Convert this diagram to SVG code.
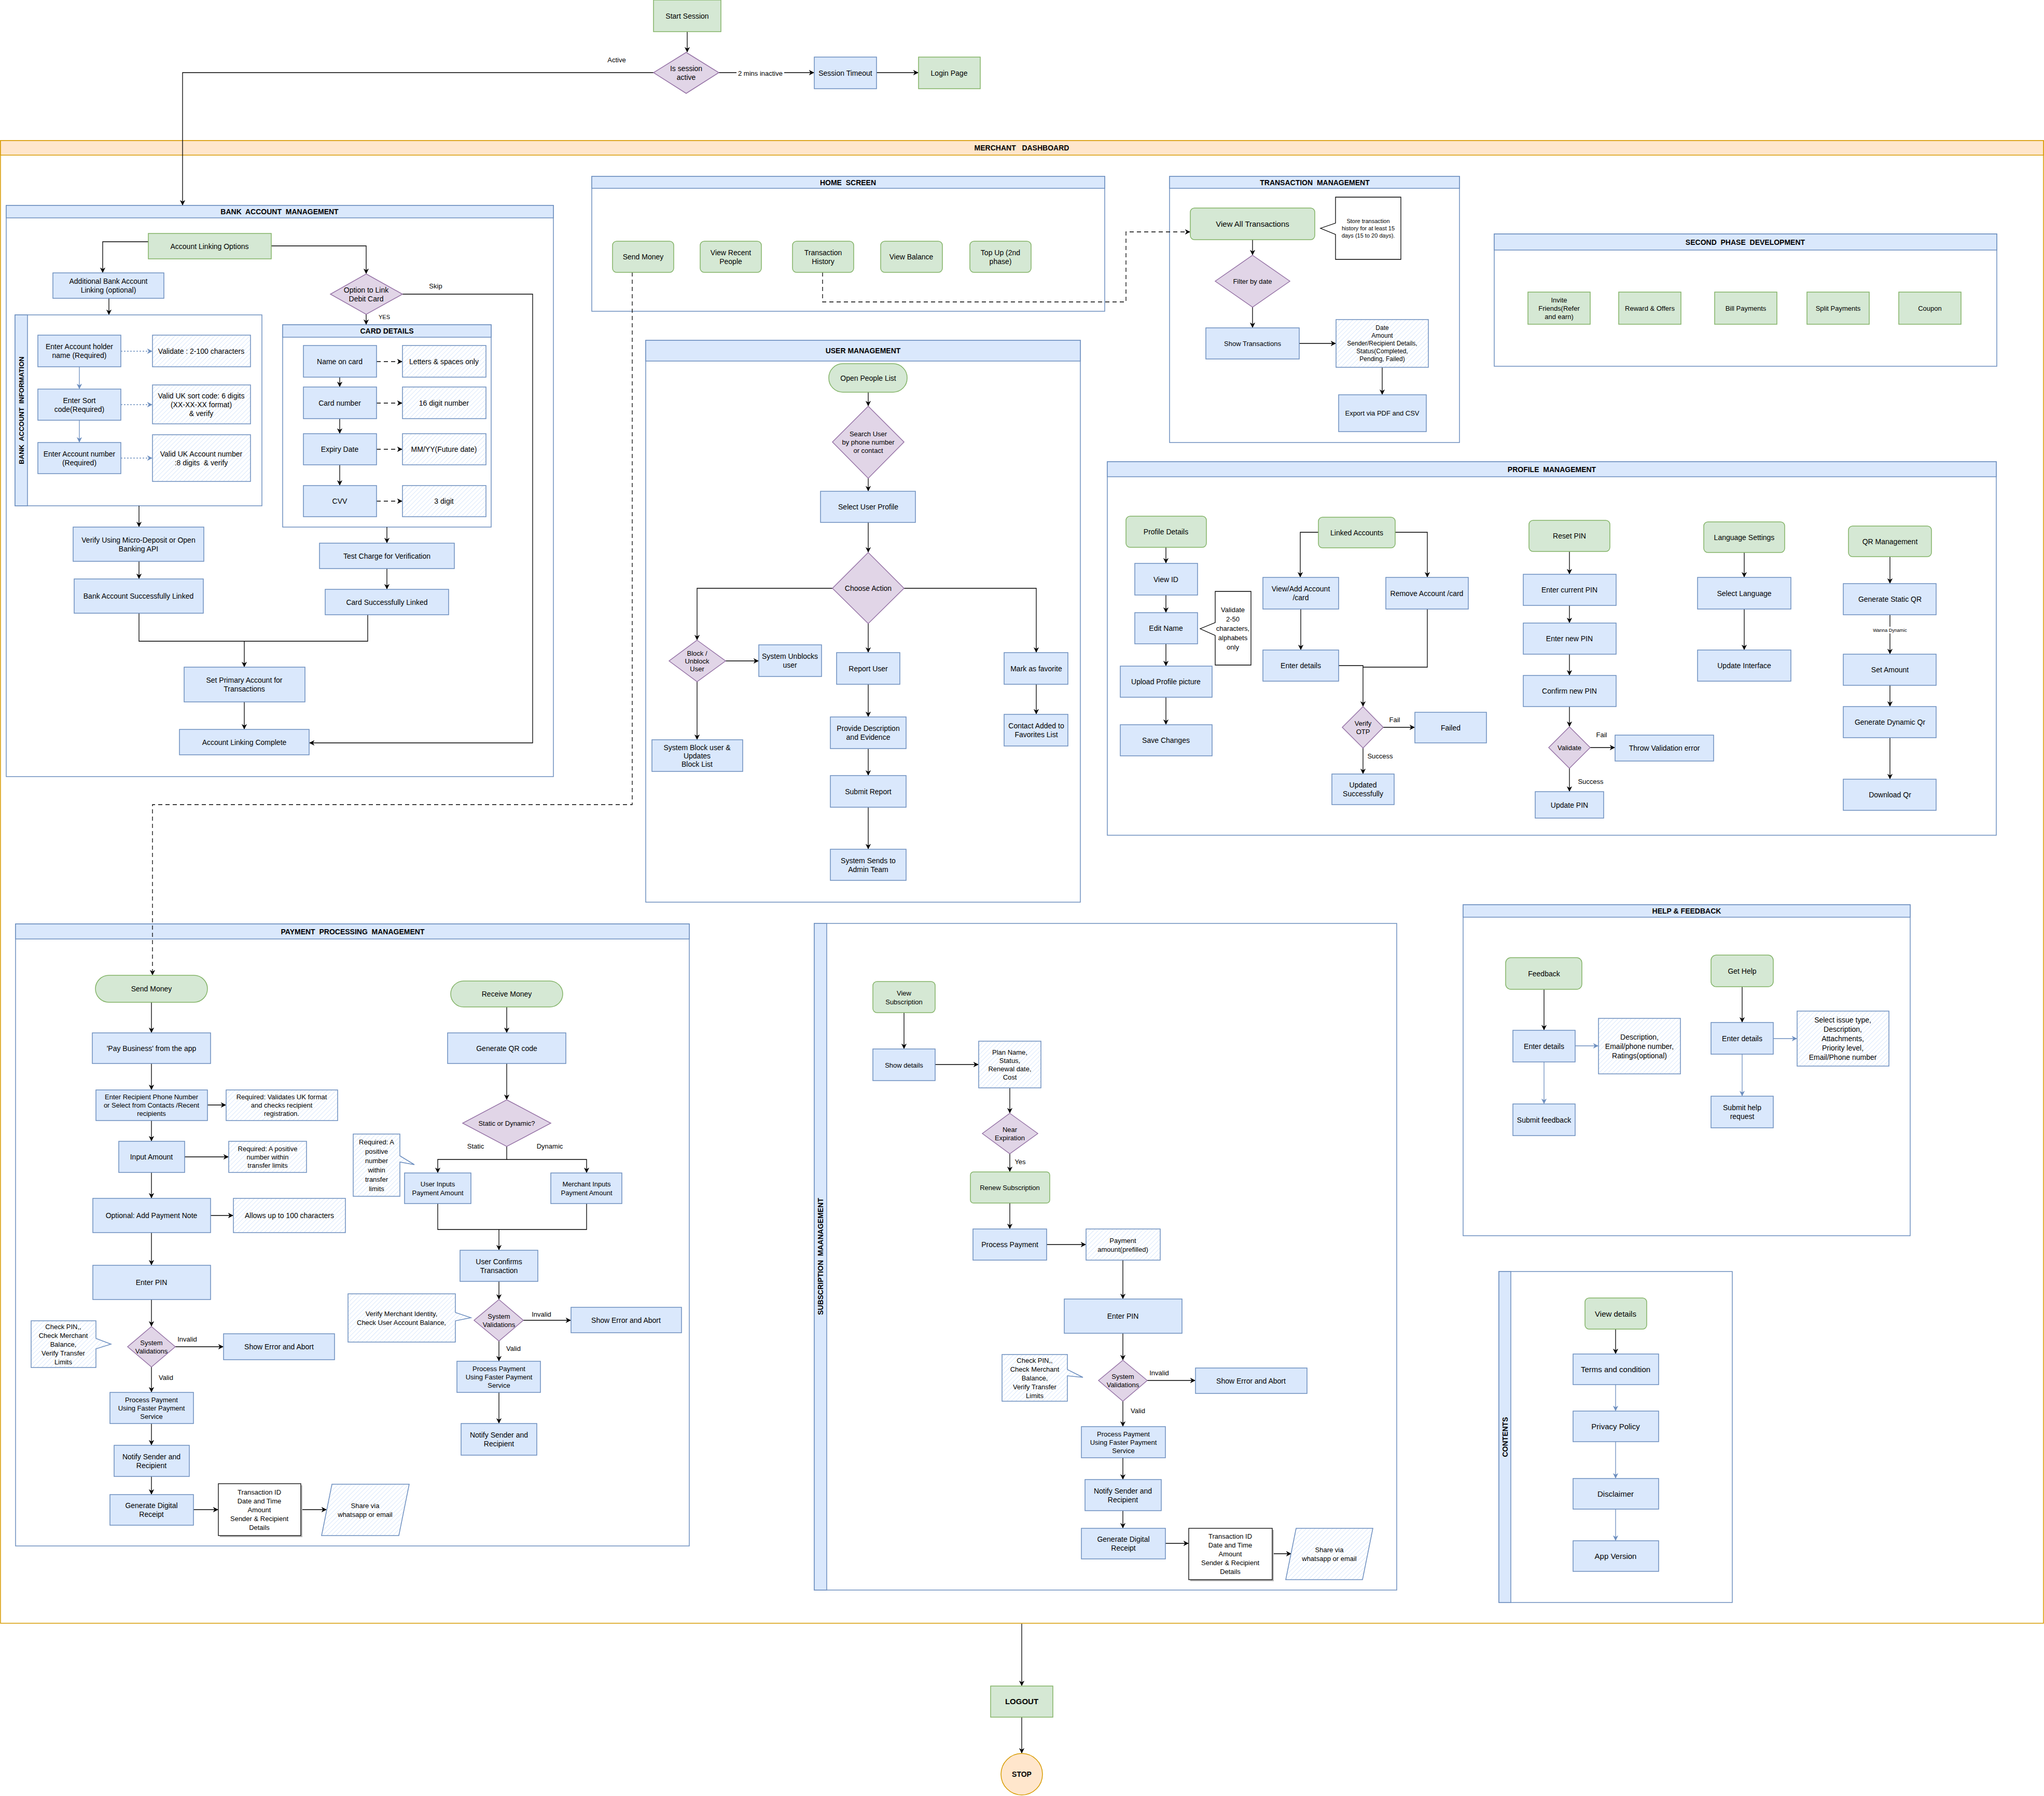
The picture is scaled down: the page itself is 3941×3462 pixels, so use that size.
<svg xmlns="http://www.w3.org/2000/svg" width="3941" height="3462" viewBox="0 0 3941 3462">
<style>
text{font-family:"Liberation Sans",Arial,sans-serif;font-size:14px;fill:#000;text-anchor:middle}
.s13{font-size:13px}.s12{font-size:12px}.s11{font-size:11px}.s9{font-size:9px}.s15{font-size:15px}
.bd{font-weight:bold}
.b{fill:#dae8fc;stroke:#6c8ebf;stroke-width:1.5}
.g{fill:#d5e8d4;stroke:#82b366;stroke-width:1.5}
.p{fill:#e1d5e7;stroke:#9673a6;stroke-width:1.5}
.n{fill:url(#h);stroke:#6c8ebf;stroke-width:1.5}
.w{fill:#fff;stroke:#000;stroke-width:1.3}
.lane{fill:#fff;stroke:#6c8ebf;stroke-width:1.5}
.hd{fill:#dae8fc;stroke:#6c8ebf;stroke-width:1.5}
.c{fill:none;stroke:#000;stroke-width:1.3}
.cb{fill:none;stroke:#6c8ebf;stroke-width:1.3}
.d{stroke-dasharray:8 6}
.dt{stroke-dasharray:3 3}
</style>
<defs>
<pattern id="h" patternUnits="userSpaceOnUse" width="6" height="6" patternTransform="rotate(45)"><rect width="6" height="6" fill="#fff"/><line x1="0" y1="0" x2="0" y2="6" stroke="#dae8fc" stroke-width="2"/></pattern>
<marker id="a" viewBox="0 0 10 10" refX="9" refY="5" markerWidth="8" markerHeight="8" orient="auto"><path d="M0,0 L10,5 L0,10 L3,5 z" fill="#000"/></marker>
<marker id="ab" viewBox="0 0 10 10" refX="9" refY="5" markerWidth="8" markerHeight="8" orient="auto"><path d="M0,0 L10,5 L0,10 L3,5 z" fill="#6c8ebf"/></marker>
</defs>
<rect width="3941" height="3462" fill="#fff"/>

<!-- Containers -->
<g id="merchant-dashboard">
<rect x="1" y="271" width="3939" height="2858" fill="#fff" stroke="#d79b00" stroke-width="1.5"/>
<rect x="1" y="271" width="3939" height="28" fill="#ffe6cc" stroke="#d79b00" stroke-width="1.5"/>
<text x="1970" y="290" class="bd" style="white-space:pre">MERCHANT   DASHBOARD</text>
</g>
<g id="lane-bank">
<rect x="12" y="396" width="1055" height="1101" class="lane"/>
<rect x="12" y="396" width="1055" height="24" class="hd"/>
<text x="539" y="413" class="bd" style="white-space:pre">BANK  ACCOUNT  MANAGEMENT</text>
</g>
<g id="lane-bai">
<rect x="29" y="607" width="476" height="368" class="lane"/>
<rect x="29" y="607" width="24" height="368" class="hd"/>
<text x="41" y="796" transform="rotate(-90 41 791)" class="bd s13" style="white-space:pre">BANK  ACCOUNT  INFORMATION</text>
</g>
<g id="lane-card">
<rect x="545" y="626" width="402" height="390" class="lane"/>
<rect x="545" y="626" width="402" height="24" class="hd"/>
<text x="746" y="643" class="bd">CARD DETAILS</text>
</g>
<g id="lane-home">
<rect x="1141" y="340" width="989" height="260" class="lane"/>
<rect x="1141" y="340" width="989" height="23" class="hd"/>
<text x="1635" y="356.5" class="bd" style="white-space:pre">HOME  SCREEN</text>
</g>
<g id="lane-transaction">
<rect x="2255" y="340" width="559" height="513" class="lane"/>
<rect x="2255" y="340" width="559" height="23" class="hd"/>
<text x="2535" y="356.5" class="bd" style="white-space:pre">TRANSACTION  MANAGEMENT</text>
</g>
<g id="lane-second">
<rect x="2881" y="451" width="969" height="255" class="lane"/>
<rect x="2881" y="451" width="969" height="31" class="hd"/>
<text x="3365" y="471.5" class="bd" style="white-space:pre">SECOND  PHASE  DEVELOPMENT</text>
</g>
<g id="lane-user">
<rect x="1245" y="656" width="838" height="1083" class="lane"/>
<rect x="1245" y="656" width="838" height="40" class="hd"/>
<text x="1664" y="681" class="bd">USER MANAGEMENT</text>
</g>
<g id="lane-profile">
<rect x="2135" y="890" width="1714" height="720" class="lane"/>
<rect x="2135" y="890" width="1714" height="29" class="hd"/>
<text x="2992" y="909.5" class="bd" style="white-space:pre">PROFILE  MANAGEMENT</text>
</g>
<g id="lane-payment">
<rect x="30" y="1781" width="1299" height="1199" class="lane"/>
<rect x="30" y="1781" width="1299" height="29" class="hd"/>
<text x="680" y="1800.5" class="bd" style="white-space:pre">PAYMENT  PROCESSING  MANAGEMENT</text>
</g>
<g id="lane-subscription">
<rect x="1570" y="1780" width="1123" height="1285" class="lane"/>
<rect x="1570" y="1780" width="24" height="1285" class="hd"/>
<text x="1582" y="2427" transform="rotate(-90 1582 2422)" class="bd" style="white-space:pre">SUBSCRIPTION  MAANAGEMENT</text>
</g>
<g id="lane-help">
<rect x="2821" y="1744" width="862" height="638" class="lane"/>
<rect x="2821" y="1744" width="862" height="24" class="hd"/>
<text x="3252" y="1761" class="bd">HELP &amp; FEEDBACK</text>
</g>
<g id="lane-contents">
<rect x="2890" y="2451" width="450" height="638" class="lane"/>
<rect x="2890" y="2451" width="23" height="638" class="hd"/>
<text x="2902" y="2775" transform="rotate(-90 2902 2770)" class="bd">CONTENTS</text>
</g>

<!-- Connectors -->
<g id="connectors">
<path class="c" d="M1325,61 V100" marker-end="url(#a)"/>
<path class="c" d="M1386,140 H1569" marker-end="url(#a)"/>
<path class="c" d="M1690,140 H1770" marker-end="url(#a)"/>
<path class="c" d="M1260,140 H352 V395" marker-end="url(#a)"/>
<!-- bank -->
<path class="c" d="M286,466 H198 V525" marker-end="url(#a)"/>
<path class="c" d="M523,474 H706 V527" marker-end="url(#a)"/>
<path class="c" d="M706,606 V625" marker-end="url(#a)"/>
<path class="c" d="M776,567 H1027 V1432 H597" marker-end="url(#a)"/>
<path class="c" d="M210,575 V606" marker-end="url(#a)"/>
<path class="cb" d="M153,707 V749" marker-end="url(#ab)"/>
<path class="cb" d="M153,810 V852" marker-end="url(#ab)"/>
<path class="cb dt" d="M233,677 H293" marker-end="url(#ab)"/>
<path class="cb dt" d="M233,780 H293" marker-end="url(#ab)"/>
<path class="cb dt" d="M233,883 H293" marker-end="url(#ab)"/>
<path class="c" d="M655,727 V745" marker-end="url(#a)"/>
<path class="c" d="M655,807 V835" marker-end="url(#a)"/>
<path class="c" d="M655,896 V935" marker-end="url(#a)"/>
<path class="c d" d="M726,697 H775" marker-end="url(#a)"/>
<path class="c d" d="M726,777 H775" marker-end="url(#a)"/>
<path class="c d" d="M726,866 H775" marker-end="url(#a)"/>
<path class="c d" d="M726,966 H775" marker-end="url(#a)"/>
<path class="c" d="M268,975 V1015" marker-end="url(#a)"/>
<path class="c" d="M268,1082 V1115" marker-end="url(#a)"/>
<path class="c" d="M746,1016 V1046" marker-end="url(#a)"/>
<path class="c" d="M746,1096 V1135" marker-end="url(#a)"/>
<path class="c" d="M268,1182 V1236 H709 V1185"/>
<path class="c" d="M471,1236 V1285" marker-end="url(#a)"/>
<path class="c" d="M471,1353 V1405" marker-end="url(#a)"/>
<!-- home / transaction -->
<path class="c d" stroke="#555" d="M1219,525 V1551 H294 V1879" marker-end="url(#a)"/>
<path class="c d" stroke="#333" d="M1586,525 V582 H2171 V447 H2294" marker-end="url(#a)"/>
<path class="c" d="M2415,462 V491" marker-end="url(#a)"/>
<path class="c" d="M2415,592 V631" marker-end="url(#a)"/>
<path class="c" stroke="#666" stroke-width="3" d="M2505,662 H2575" marker-end="url(#a)"/>
<path class="c" d="M2665,708 V760" marker-end="url(#a)"/>
<!-- user -->
<path class="c" d="M1674,756 V782" marker-end="url(#a)"/>
<path class="c" d="M1674,922 V946" marker-end="url(#a)"/>
<path class="c" d="M1674,1007 V1064" marker-end="url(#a)"/>
<path class="c" d="M1605,1134 H1344 V1233" marker-end="url(#a)"/>
<path class="c" d="M1674,1202 V1257" marker-end="url(#a)"/>
<path class="c" d="M1743,1134 H1998 V1257" marker-end="url(#a)"/>
<path class="c" d="M1399,1274 H1462" marker-end="url(#a)"/>
<path class="c" d="M1344,1314 V1425" marker-end="url(#a)"/>
<path class="c" d="M1674,1319 V1381" marker-end="url(#a)"/>
<path class="c" d="M1674,1443 V1494" marker-end="url(#a)"/>
<path class="c" d="M1674,1556 V1636" marker-end="url(#a)"/>
<path class="c" d="M1998,1319 V1376" marker-end="url(#a)"/>
<!-- profile -->
<path class="c" d="M2248,1055 V1085" marker-end="url(#a)"/>
<path class="c" d="M2248,1147 V1180" marker-end="url(#a)"/>
<path class="c" d="M2248,1241 V1283" marker-end="url(#a)"/>
<path class="c" d="M2248,1344 V1396" marker-end="url(#a)"/>
<path class="c" d="M2542,1026 H2507 V1112" marker-end="url(#a)"/>
<path class="c" d="M2690,1026 H2752 V1112" marker-end="url(#a)"/>
<path class="c" d="M2508,1174 V1252" marker-end="url(#a)"/>
<path class="c" d="M2581,1283 H2628 V1361" marker-end="url(#a)"/>
<path class="c" d="M2752,1174 V1286 H2628"/>
<path class="c" d="M2667,1402 H2727" marker-end="url(#a)"/>
<path class="c" d="M2628,1442 V1491" marker-end="url(#a)"/>
<path class="c" d="M3026,1063 V1106" marker-end="url(#a)"/>
<path class="c" d="M3026,1167 V1200" marker-end="url(#a)"/>
<path class="c" d="M3026,1261 V1301" marker-end="url(#a)"/>
<path class="c" d="M3026,1362 V1400" marker-end="url(#a)"/>
<path class="c" d="M3066,1441 H3113" marker-end="url(#a)"/>
<path class="c" d="M3026,1481 V1525" marker-end="url(#a)"/>
<path class="c" stroke="#bbb" d="M3363,1065 V1112" marker-end="url(#a)"/>
<path class="c" stroke="#bbb" d="M3363,1174 V1252" marker-end="url(#a)"/>
<path class="c" d="M3644,1073 V1124" marker-end="url(#a)"/>
<path class="c" d="M3644,1185 V1260" marker-end="url(#a)"/>
<path class="c" d="M3644,1321 V1361" marker-end="url(#a)"/>
<path class="c" d="M3644,1422 V1501" marker-end="url(#a)"/>
<!-- payment send -->
<path class="c" d="M292,1932 V1990" marker-end="url(#a)"/>
<path class="c" d="M292,2050 V2100" marker-end="url(#a)"/>
<path class="c" d="M400,2130 H435" marker-end="url(#a)"/>
<path class="c" d="M292,2160 V2199" marker-end="url(#a)"/>
<path class="c" d="M356,2230 H440" marker-end="url(#a)"/>
<path class="c" d="M292,2260 V2309" marker-end="url(#a)"/>
<path class="c" d="M406,2343 H449" marker-end="url(#a)"/>
<path class="c" d="M292,2376 V2438" marker-end="url(#a)"/>
<path class="c" d="M292,2505 V2556" marker-end="url(#a)"/>
<path class="c" d="M338,2596 H430" marker-end="url(#a)"/>
<path class="c" d="M292,2635 V2683" marker-end="url(#a)"/>
<path class="c" d="M292,2744 V2785" marker-end="url(#a)"/>
<path class="c" d="M292,2846 V2880" marker-end="url(#a)"/>
<path class="c" d="M373,2910 H420" marker-end="url(#a)"/>
<path class="c" d="M580,2910 H629" marker-end="url(#a)"/>
<!-- payment receive -->
<path class="c" d="M977,1941 V1990" marker-end="url(#a)"/>
<path class="c" d="M977,2050 V2119" marker-end="url(#a)"/>
<path class="c" d="M977,2210 V2235 H844 V2260" marker-end="url(#a)"/>
<path class="c" d="M977,2235 H1131 V2260" marker-end="url(#a)"/>
<path class="c" d="M844,2320 V2370 H1131 V2320"/>
<path class="c" d="M962,2370 V2409" marker-end="url(#a)"/>
<path class="c" d="M962,2470 V2504" marker-end="url(#a)"/>
<path class="c" d="M1009,2545 H1100" marker-end="url(#a)"/>
<path class="c" d="M962,2585 V2623" marker-end="url(#a)"/>
<path class="c" d="M962,2684 V2743" marker-end="url(#a)"/>
<!-- subscription -->
<path class="c" d="M1743,1952 V2021" marker-end="url(#a)"/>
<path class="c" d="M1803,2052 H1886" marker-end="url(#a)"/>
<path class="c" d="M1947,2097 V2145" marker-end="url(#a)"/>
<path class="c" d="M1947,2224 V2258" marker-end="url(#a)"/>
<path class="c" d="M1947,2319 V2368" marker-end="url(#a)"/>
<path class="c" d="M2018,2399 H2093" marker-end="url(#a)"/>
<path class="c" d="M2165,2429 V2503" marker-end="url(#a)"/>
<path class="c" d="M2165,2570 V2621" marker-end="url(#a)"/>
<path class="c" d="M2212,2661 H2304" marker-end="url(#a)"/>
<path class="c" d="M2165,2701 V2749" marker-end="url(#a)"/>
<path class="c" d="M2165,2810 V2851" marker-end="url(#a)"/>
<path class="c" d="M2165,2912 V2945" marker-end="url(#a)"/>
<path class="c" d="M2247,2975 H2291" marker-end="url(#a)"/>
<path class="c" d="M2453,2995 H2489" marker-end="url(#a)"/>
<!-- help -->
<path class="c" d="M2977,1907 V1985" marker-end="url(#a)"/>
<path class="cb" d="M3037,2016 H3081" marker-end="url(#ab)"/>
<path class="cb" d="M2977,2047 V2127" marker-end="url(#ab)"/>
<path class="c" d="M3359,1902 V1970" marker-end="url(#a)"/>
<path class="cb" d="M3419,2002 H3464" marker-end="url(#ab)"/>
<path class="cb" d="M3359,2032 V2112" marker-end="url(#ab)"/>
<!-- contents -->
<path class="c" d="M3115,2562 V2609" marker-end="url(#a)"/>
<path class="cb" d="M3115,2669 V2719" marker-end="url(#ab)"/>
<path class="cb" d="M3115,2779 V2849" marker-end="url(#ab)"/>
<path class="cb" d="M3115,2909 V2969" marker-end="url(#ab)"/>
<!-- logout -->
<path class="c" d="M1970,3130 V3249" marker-end="url(#a)"/>
<path class="c" d="M1970,3310 V3379" marker-end="url(#a)"/>
<!-- labels -->
<text x="1189" y="120" class="s13">Active</text>
<rect x="1420" y="132" width="92" height="18" fill="#fff"/>
<text x="1466" y="146" class="s13">2 mins inactive</text>
<text x="840" y="556" class="s13">Skip</text>
<text x="741" y="615" class="s11">YES</text>
<text x="2689" y="1392" class="s13">Fail</text>
<text x="2661" y="1462" class="s13">Success</text>
<text x="3088" y="1421" class="s13">Fail</text>
<text x="3067" y="1511" class="s13">Success</text>
<rect x="3612" y="1208" width="64" height="13" fill="#fff"/>
<text x="3644" y="1218" class="s9">Wanna Dynamic</text>
<text x="361" y="2586" class="s13">Invalid</text>
<text x="320" y="2660" class="s13">Valid</text>
<text x="917" y="2214" class="s13">Static</text>
<text x="1060" y="2214" class="s13">Dynamic</text>
<text x="1044" y="2538" class="s13">Invalid</text>
<text x="990" y="2604" class="s13">Valid</text>
<text x="1967" y="2244" class="s13">Yes</text>
<text x="2235" y="2651" class="s13">Invalid</text>
<text x="2194" y="2724" class="s13">Valid</text>
</g>

<!-- Top nodes -->
<g id="start-session"><rect x="1260" y="0" width="130" height="61" class="g"/><text x="1325" y="35.5">Start Session</text></g>
<g id="is-session-active"><polygon points="1323,101 1386,140 1323,180 1260,140" class="p"/><text x="1323" y="136.5">Is session</text><text x="1323" y="153.5">active</text></g>
<g id="session-timeout"><rect x="1570" y="110" width="120" height="61" class="b"/><text x="1630" y="145.5">Session Timeout</text></g>
<g id="login-page"><rect x="1771" y="110" width="119" height="61" class="g"/><text x="1830" y="145.5">Login Page</text></g>

<!-- Bank nodes -->
<g id="account-linking-options"><rect x="286" y="450" width="237" height="49" class="g"/><text x="404" y="479.5">Account Linking Options</text></g>
<g id="additional-bank"><rect x="102" y="526" width="214" height="49" class="b"/><text x="209" y="547">Additional Bank Account</text><text x="209" y="564">Linking (optional)</text></g>
<g id="option-debit"><polygon points="706,528 776,567 706,606 637,567" class="p"/><text x="706" y="563.5">Option to Link</text><text x="706" y="580.5">Debit Card</text></g>
<g id="enter-holder"><rect x="73" y="646" width="160" height="61" class="b"/><text x="153" y="673">Enter Account holder</text><text x="153" y="690">name (Required)</text></g>
<g id="validate-holder"><rect x="294" y="646" width="189" height="61" class="n"/><text x="388" y="681.5">Validate : 2-100 characters</text></g>
<g id="enter-sort"><rect x="73" y="750" width="160" height="60" class="b"/><text x="153" y="776.5">Enter Sort</text><text x="153" y="793.5">code(Required)</text></g>
<g id="valid-sort"><rect x="294" y="742" width="189" height="75" class="n"/><text x="388" y="767.5">Valid UK sort code: 6 digits</text><text x="388" y="784.5">(XX-XX-XX format)</text><text x="388" y="801.5">&amp; verify</text></g>
<g id="enter-accnum"><rect x="73" y="853" width="160" height="60" class="b"/><text x="153" y="879.5">Enter Account number</text><text x="153" y="896.5">(Required)</text></g>
<g id="valid-accnum"><rect x="294" y="838" width="189" height="90" class="n"/><text x="388" y="879.5">Valid UK Account number</text><text x="388" y="896.5" style="white-space:pre">:8 digits  &amp; verify</text></g>
<g id="name-on-card"><rect x="585" y="666" width="141" height="61" class="b"/><text x="655" y="701.5">Name on card</text></g>
<g id="letters-only"><rect x="776" y="666" width="161" height="61" class="n"/><text x="856" y="701.5">Letters &amp; spaces only</text></g>
<g id="card-number"><rect x="585" y="746" width="141" height="61" class="b"/><text x="655" y="781.5">Card number</text></g>
<g id="digit16"><rect x="776" y="746" width="161" height="61" class="n"/><text x="856" y="781.5">16 digit number</text></g>
<g id="expiry"><rect x="585" y="836" width="141" height="60" class="b"/><text x="655" y="871">Expiry Date</text></g>
<g id="mmyy"><rect x="776" y="836" width="161" height="60" class="n"/><text x="856" y="871">MM/YY(Future date)</text></g>
<g id="cvv"><rect x="585" y="936" width="141" height="60" class="b"/><text x="655" y="971">CVV</text></g>
<g id="digit3"><rect x="776" y="936" width="161" height="60" class="n"/><text x="856" y="971">3 digit</text></g>
<g id="verify-micro"><rect x="141" y="1016" width="252" height="66" class="b"/><text x="267" y="1045.5">Verify Using Micro-Deposit or Open</text><text x="267" y="1062.5">Banking API</text></g>
<g id="bank-linked"><rect x="143" y="1116" width="249" height="66" class="b"/><text x="267" y="1154">Bank Account Successfully Linked</text></g>
<g id="test-charge"><rect x="616" y="1047" width="260" height="49" class="b"/><text x="746" y="1076.5">Test Charge for Verification</text></g>
<g id="card-linked"><rect x="627" y="1136" width="238" height="49" class="b"/><text x="746" y="1165.5">Card Successfully Linked</text></g>
<g id="set-primary"><rect x="355" y="1286" width="233" height="67" class="b"/><text x="471" y="1316">Set Primary Account for</text><text x="471" y="1333">Transactions</text></g>
<g id="linking-complete"><rect x="346" y="1406" width="250" height="49" class="b"/><text x="471" y="1435.5">Account Linking Complete</text></g>

<!-- Home nodes -->
<g id="home-send"><rect x="1181" y="465" width="118" height="60" rx="8" class="g"/><text x="1240" y="500">Send Money</text></g>
<g id="home-recent"><rect x="1350" y="465" width="118" height="60" rx="8" class="g"/><text x="1409" y="491.5">View Recent</text><text x="1409" y="508.5">People</text></g>
<g id="home-history"><rect x="1528" y="465" width="118" height="60" rx="8" class="g"/><text x="1587" y="491.5">Transaction</text><text x="1587" y="508.5">History</text></g>
<g id="home-balance"><rect x="1698" y="465" width="119" height="60" rx="8" class="g"/><text x="1757" y="500">View Balance</text></g>
<g id="home-topup"><rect x="1870" y="465" width="118" height="60" rx="8" class="g"/><text x="1929" y="491.5">Top Up (2nd</text><text x="1929" y="508.5">phase)</text></g>

<!-- Transaction nodes -->
<g id="view-all-tx"><rect x="2295" y="401" width="240" height="61" rx="8" class="g"/><text x="2415" y="436.5" class="s15">View All Transactions</text></g>
<g id="tx-note"><path d="M2575,380 H2701 V500 H2575 V452 L2546,440 L2575,430 Z" class="w"/><text x="2638" y="430" class="s11">Store transaction</text><text x="2638" y="444" class="s11">history for at least 15</text><text x="2638" y="458" class="s11">days (15 to 20 days).</text></g>
<g id="filter-date"><polygon points="2415,492 2487,542 2415,592 2343,542" class="p"/><text x="2415" y="546.5" class="s13">Filter by date</text></g>
<g id="show-tx"><rect x="2325" y="632" width="180" height="60" class="b"/><text x="2415" y="667" class="s13">Show Transactions</text></g>
<g id="tx-data"><rect x="2576" y="616" width="178" height="92" class="n"/><text x="2665" y="636" class="s12">Date</text><text x="2665" y="651" class="s12">Amount</text><text x="2665" y="666" class="s12">Sender/Recipient Details,</text><text x="2665" y="681" class="s12">Status(Completed,</text><text x="2665" y="696" class="s12">Pending, Failed)</text></g>
<g id="export"><rect x="2581" y="761" width="169" height="71" class="b"/><text x="2665" y="801" class="s13">Export via PDF and CSV</text></g>

<!-- Second phase -->
<g id="invite"><rect x="2946" y="563" width="120" height="62" class="g"/><text x="3006" y="582.5" class="s13">Invite</text><text x="3006" y="598.5" class="s13">Friends(Refer</text><text x="3006" y="614.5" class="s13">and earn)</text></g>
<g id="reward"><rect x="3121" y="563" width="120" height="62" class="g"/><text x="3181" y="599" class="s13">Reward &amp; Offers</text></g>
<g id="bill"><rect x="3306" y="563" width="120" height="62" class="g"/><text x="3366" y="599" class="s13">Bill Payments</text></g>
<g id="split"><rect x="3484" y="563" width="120" height="62" class="g"/><text x="3544" y="599" class="s13">Split Payments</text></g>
<g id="coupon"><rect x="3661" y="563" width="120" height="62" class="g"/><text x="3721" y="599" class="s13">Coupon</text></g>

<!-- User management -->
<g id="open-people"><rect x="1598" y="701" width="151" height="55" rx="27" class="g"/><text x="1674" y="733.5">Open People List</text></g>
<g id="search-user"><polygon points="1674,783 1743,852 1674,922 1605,852" class="p"/><text x="1674" y="840.5" class="s13">Search User</text><text x="1674" y="856.5" class="s13">by phone number</text><text x="1674" y="872.5" class="s13">or contact</text></g>
<g id="select-profile"><rect x="1582" y="947" width="183" height="60" class="b"/><text x="1674" y="982">Select User Profile</text></g>
<g id="choose-action"><polygon points="1674,1065 1743,1134 1674,1202 1605,1134" class="p"/><text x="1674" y="1139">Choose Action</text></g>
<g id="block-user"><polygon points="1344,1234 1399,1274 1344,1314 1290,1274" class="p"/><text x="1344" y="1263.5" class="s13">Block /</text><text x="1344" y="1278.5" class="s13">Unblock</text><text x="1344" y="1293.5" class="s13">User</text></g>
<g id="system-unblocks"><rect x="1463" y="1243" width="121" height="61" class="b"/><text x="1523" y="1270">System Unblocks</text><text x="1523" y="1287">user</text></g>
<g id="report-user"><rect x="1613" y="1258" width="122" height="61" class="b"/><text x="1674" y="1293.5">Report User</text></g>
<g id="mark-favorite"><rect x="1936" y="1258" width="123" height="61" class="b"/><text x="1998" y="1293.5">Mark as favorite</text></g>
<g id="system-block"><rect x="1257" y="1426" width="175" height="61" class="b"/><text x="1344" y="1445.5">System Block user &amp;</text><text x="1344" y="1461.5">Updates</text><text x="1344" y="1477.5">Block List</text></g>
<g id="provide-desc"><rect x="1601" y="1382" width="146" height="61" class="b"/><text x="1674" y="1409">Provide Description</text><text x="1674" y="1426">and Evidence</text></g>
<g id="submit-report"><rect x="1601" y="1495" width="146" height="61" class="b"/><text x="1674" y="1530.5">Submit Report</text></g>
<g id="sends-admin"><rect x="1601" y="1637" width="146" height="60" class="b"/><text x="1674" y="1663.5">System Sends to</text><text x="1674" y="1680.5">Admin Team</text></g>
<g id="contact-added"><rect x="1936" y="1377" width="123" height="61" class="b"/><text x="1998" y="1404">Contact Added to</text><text x="1998" y="1421">Favorites List</text></g>

<!-- Profile -->
<g id="profile-details"><rect x="2171" y="995" width="155" height="60" rx="8" class="g"/><text x="2248" y="1030">Profile Details</text></g>
<g id="view-id"><rect x="2188" y="1086" width="121" height="61" class="b"/><text x="2248" y="1121.5">View ID</text></g>
<g id="edit-name"><rect x="2188" y="1181" width="121" height="60" class="b"/><text x="2248" y="1216">Edit Name</text></g>
<g id="name-note"><path d="M2343,1140 H2412 V1282 H2343 V1225 L2314,1212 L2343,1200 Z" class="w"/><text x="2377" y="1179.5" class="s13">Validate</text><text x="2377" y="1197.5" class="s13">2-50</text><text x="2377" y="1215.5" class="s13">characters,</text><text x="2377" y="1233.5" class="s13">alphabets</text><text x="2377" y="1251.5" class="s13">only</text></g>
<g id="upload-pic"><rect x="2160" y="1284" width="177" height="60" class="b"/><text x="2248" y="1319">Upload Profile picture</text></g>
<g id="save-changes"><rect x="2160" y="1397" width="177" height="60" class="b"/><text x="2248" y="1432">Save Changes</text></g>
<g id="linked-accounts"><rect x="2542" y="997" width="148" height="59" rx="8" class="g"/><text x="2616" y="1031.5">Linked Accounts</text></g>
<g id="view-add"><rect x="2435" y="1113" width="146" height="61" class="b"/><text x="2508" y="1140">View/Add Account</text><text x="2508" y="1157">/card</text></g>
<g id="remove-account"><rect x="2672" y="1113" width="159" height="61" class="b"/><text x="2751" y="1148.5">Remove Account /card</text></g>
<g id="enter-details-p"><rect x="2435" y="1253" width="146" height="60" class="b"/><text x="2508" y="1288">Enter details</text></g>
<g id="verify-otp"><polygon points="2628,1362 2667,1402 2628,1442 2588,1402" class="p"/><text x="2628" y="1398.5" class="s13">Verify</text><text x="2628" y="1414.5" class="s13">OTP</text></g>
<g id="failed"><rect x="2728" y="1373" width="138" height="59" class="b"/><text x="2797" y="1407.5">Failed</text></g>
<g id="updated"><rect x="2568" y="1492" width="120" height="59" class="b"/><text x="2628" y="1518">Updated</text><text x="2628" y="1535">Successfully</text></g>
<g id="reset-pin"><rect x="2948" y="1003" width="156" height="60" rx="8" class="g"/><text x="3026" y="1038">Reset PIN</text></g>
<g id="enter-current"><rect x="2937" y="1107" width="179" height="60" class="b"/><text x="3026" y="1142">Enter current PIN</text></g>
<g id="enter-new"><rect x="2937" y="1201" width="179" height="60" class="b"/><text x="3026" y="1236">Enter new PIN</text></g>
<g id="confirm-new"><rect x="2937" y="1302" width="179" height="60" class="b"/><text x="3026" y="1337">Confirm new PIN</text></g>
<g id="validate-pin"><polygon points="3026,1401 3066,1441 3026,1481 2986,1441" class="p"/><text x="3026" y="1445.5" class="s13">Validate</text></g>
<g id="throw-error"><rect x="3114" y="1417" width="190" height="50" class="b"/><text x="3209" y="1447">Throw Validation error</text></g>
<g id="update-pin"><rect x="2960" y="1526" width="132" height="51" class="b"/><text x="3026" y="1556.5">Update PIN</text></g>
<g id="language"><rect x="3285" y="1006" width="156" height="59" rx="8" class="g"/><text x="3363" y="1040.5">Language Settings</text></g>
<g id="select-language"><rect x="3273" y="1113" width="180" height="61" class="b"/><text x="3363" y="1148.5">Select Language</text></g>
<g id="update-interface"><rect x="3273" y="1253" width="180" height="60" class="b"/><text x="3363" y="1288">Update Interface</text></g>
<g id="qr-management"><rect x="3564" y="1014" width="160" height="59" rx="8" class="g"/><text x="3644" y="1048.5">QR Management</text></g>
<g id="static-qr"><rect x="3554" y="1125" width="179" height="60" class="b"/><text x="3644" y="1160">Generate Static QR</text></g>
<g id="set-amount"><rect x="3554" y="1261" width="179" height="60" class="b"/><text x="3644" y="1296">Set Amount</text></g>
<g id="dynamic-qr"><rect x="3554" y="1362" width="179" height="60" class="b"/><text x="3644" y="1397">Generate Dynamic Qr</text></g>
<g id="download-qr"><rect x="3554" y="1502" width="179" height="60" class="b"/><text x="3644" y="1537">Download Qr</text></g>

<!-- Payment send -->
<g id="pay-send-money"><rect x="184" y="1880" width="216" height="52" rx="26" class="g"/><text x="292" y="1911">Send Money</text></g>
<g id="pay-business"><rect x="178" y="1991" width="228" height="59" class="b"/><text x="292" y="2025.5">'Pay Business' from the app</text></g>
<g id="enter-recipient"><rect x="185" y="2101" width="215" height="59" class="b"/><text x="292" y="2119" class="s13">Enter Recipient Phone Number</text><text x="292" y="2135" class="s13">or Select from Contacts /Recent</text><text x="292" y="2151" class="s13">recipients</text></g>
<g id="req-uk"><rect x="436" y="2101" width="215" height="59" class="n"/><text x="543" y="2119" class="s13">Required: Validates UK format</text><text x="543" y="2135" class="s13">and checks recipient</text><text x="543" y="2151" class="s13">registration.</text></g>
<g id="input-amount"><rect x="229" y="2200" width="127" height="60" class="b"/><text x="292" y="2235">Input Amount</text></g>
<g id="req-positive"><rect x="441" y="2200" width="150" height="60" class="n"/><text x="516" y="2218.5" class="s13">Required: A positive</text><text x="516" y="2234.5" class="s13">number within</text><text x="516" y="2250.5" class="s13">transfer limits</text></g>
<g id="payment-note"><rect x="179" y="2310" width="227" height="66" class="b"/><text x="292" y="2348">Optional: Add Payment Note</text></g>
<g id="allows-100"><rect x="450" y="2310" width="216" height="66" class="n"/><text x="558" y="2348">Allows up to 100 characters</text></g>
<g id="pay-enter-pin"><rect x="179" y="2439" width="227" height="66" class="b"/><text x="292" y="2477">Enter PIN</text></g>
<g id="pay-sysval"><polygon points="292,2557 338,2596 292,2635 246,2596" class="p"/><text x="292" y="2592.5" class="s13">System</text><text x="292" y="2608.5" class="s13">Validations</text></g>
<g id="pay-check-note"><path d="M60,2546 H185 V2580 L214,2591 L185,2600 V2636 H60 Z" class="n"/><text x="122" y="2561.5" class="s13">Check PIN,,</text><text x="122" y="2578.5" class="s13">Check Merchant</text><text x="122" y="2595.5" class="s13">Balance,</text><text x="122" y="2612.5" class="s13">Verify Transfer</text><text x="122" y="2629.5" class="s13">Limits</text></g>
<g id="pay-show-error"><rect x="431" y="2571" width="214" height="50" class="b"/><text x="538" y="2601">Show Error and Abort</text></g>
<g id="pay-process"><rect x="212" y="2684" width="161" height="60" class="b"/><text x="292" y="2702.5" class="s13">Process Payment</text><text x="292" y="2718.5" class="s13">Using Faster Payment</text><text x="292" y="2734.5" class="s13">Service</text></g>
<g id="pay-notify"><rect x="220" y="2786" width="145" height="60" class="b"/><text x="292" y="2812.5">Notify Sender and</text><text x="292" y="2829.5">Recipient</text></g>
<g id="pay-receipt"><rect x="212" y="2881" width="161" height="59" class="b"/><text x="292" y="2907">Generate Digital</text><text x="292" y="2924">Receipt</text></g>
<g id="pay-tx-details"><rect x="424" y="2863" width="159" height="100" fill="#bbb"/><rect x="421" y="2860" width="159" height="100" class="w"/><text x="500" y="2880.5" class="s13">Transaction ID</text><text x="500" y="2897.5" class="s13">Date and Time</text><text x="500" y="2914.5" class="s13">Amount</text><text x="500" y="2931.5" class="s13">Sender &amp; Recipient</text><text x="500" y="2948.5" class="s13">Details</text></g>
<g id="pay-share"><polygon points="640,2861 789,2861 769,2960 620,2960" class="n"/><text x="704" y="2907" class="s13">Share via</text><text x="704" y="2924" class="s13">whatsapp or email</text></g>

<!-- Payment receive -->
<g id="receive-money"><rect x="869" y="1891" width="216" height="50" rx="25" class="g"/><text x="977" y="1921">Receive Money</text></g>
<g id="generate-qr"><rect x="863" y="1991" width="228" height="59" class="b"/><text x="977" y="2025.5">Generate QR code</text></g>
<g id="static-dynamic"><polygon points="977,2120 1062,2165 977,2210 892,2165" class="p"/><text x="977" y="2169.5" class="s13">Static or Dynamic?</text></g>
<g id="user-inputs"><rect x="780" y="2261" width="128" height="59" class="b"/><text x="844" y="2287" class="s13">User Inputs</text><text x="844" y="2304" class="s13">Payment Amount</text></g>
<g id="merchant-inputs"><rect x="1062" y="2261" width="137" height="59" class="b"/><text x="1131" y="2287" class="s13">Merchant Inputs</text><text x="1131" y="2304" class="s13">Payment Amount</text></g>
<g id="req-positive2"><path d="M681,2186 H771 V2228 L799,2245 L771,2240 V2306 H681 Z" class="n"/><text x="726" y="2205.5" class="s13">Required: A</text><text x="726" y="2223.5" class="s13">positive</text><text x="726" y="2241.5" class="s13">number</text><text x="726" y="2259.5" class="s13">within</text><text x="726" y="2277.5" class="s13">transfer</text><text x="726" y="2295.5" class="s13">limits</text></g>
<g id="user-confirms"><rect x="887" y="2410" width="150" height="60" class="b"/><text x="962" y="2436.5">User Confirms</text><text x="962" y="2453.5">Transaction</text></g>
<g id="rcv-sysval"><polygon points="962,2505 1009,2545 962,2585 914,2545" class="p"/><text x="962" y="2541.5" class="s13">System</text><text x="962" y="2557.5" class="s13">Validations</text></g>
<g id="verify-merchant-note"><path d="M671,2494 H878 V2530 L908,2540 L878,2546 V2587 H671 Z" class="n"/><text x="774" y="2536.5" class="s13">Verify Merchant Identity,</text><text x="774" y="2553.5" class="s13">Check User Account Balance,</text></g>
<g id="rcv-show-error"><rect x="1101" y="2520" width="213" height="49" class="b"/><text x="1207" y="2549.5">Show Error and Abort</text></g>
<g id="rcv-process"><rect x="881" y="2624" width="161" height="60" class="b"/><text x="962" y="2642.5" class="s13">Process Payment</text><text x="962" y="2658.5" class="s13">Using Faster Payment</text><text x="962" y="2674.5" class="s13">Service</text></g>
<g id="rcv-notify"><rect x="889" y="2744" width="146" height="61" class="b"/><text x="962" y="2771">Notify Sender and</text><text x="962" y="2788">Recipient</text></g>

<!-- Subscription -->
<g id="view-subscription"><rect x="1683" y="1892" width="120" height="60" rx="8" class="g"/><text x="1743" y="1918.5" class="s13">View</text><text x="1743" y="1935.5" class="s13">Subscription</text></g>
<g id="show-details"><rect x="1683" y="2022" width="120" height="61" class="b"/><text x="1743" y="2057.5" class="s13">Show details</text></g>
<g id="plan-details"><rect x="1887" y="2007" width="120" height="90" class="n"/><text x="1947" y="2032.5" class="s13">Plan Name,</text><text x="1947" y="2048.5" class="s13">Status,</text><text x="1947" y="2064.5" class="s13">Renewal date,</text><text x="1947" y="2080.5" class="s13">Cost</text></g>
<g id="near-expiration"><polygon points="1947,2146 2001,2185 1947,2224 1894,2185" class="p"/><text x="1947" y="2181.5" class="s13">Near</text><text x="1947" y="2197.5" class="s13">Expiration</text></g>
<g id="renew"><rect x="1871" y="2259" width="153" height="60" rx="6" class="g"/><text x="1947" y="2294" class="s13">Renew Subscription</text></g>
<g id="sub-process"><rect x="1876" y="2369" width="142" height="60" class="b"/><text x="1947" y="2404">Process Payment</text></g>
<g id="payment-prefilled"><rect x="2094" y="2369" width="143" height="60" class="n"/><text x="2165" y="2395.5" class="s13">Payment</text><text x="2165" y="2412.5" class="s13">amount(prefilled)</text></g>
<g id="sub-enter-pin"><rect x="2052" y="2504" width="227" height="66" class="b"/><text x="2165" y="2542">Enter PIN</text></g>
<g id="sub-sysval"><polygon points="2165,2622 2212,2661 2165,2701 2118,2661" class="p"/><text x="2165" y="2657.5" class="s13">System</text><text x="2165" y="2673.5" class="s13">Validations</text></g>
<g id="sub-check-note"><path d="M1932,2611 H2058 V2640 L2088,2655 L2058,2652 V2701 H1932 Z" class="n"/><text x="1995" y="2626.5" class="s13">Check PIN,,</text><text x="1995" y="2643.5" class="s13">Check Merchant</text><text x="1995" y="2660.5" class="s13">Balance,</text><text x="1995" y="2677.5" class="s13">Verify Transfer</text><text x="1995" y="2694.5" class="s13">Limits</text></g>
<g id="sub-show-error"><rect x="2305" y="2637" width="215" height="49" class="b"/><text x="2412" y="2666.5">Show Error and Abort</text></g>
<g id="sub-process-fps"><rect x="2085" y="2750" width="162" height="60" class="b"/><text x="2166" y="2768.5" class="s13">Process Payment</text><text x="2166" y="2784.5" class="s13">Using Faster Payment</text><text x="2166" y="2800.5" class="s13">Service</text></g>
<g id="sub-notify"><rect x="2092" y="2852" width="147" height="60" class="b"/><text x="2165" y="2878.5">Notify Sender and</text><text x="2165" y="2895.5">Recipient</text></g>
<g id="sub-receipt"><rect x="2085" y="2946" width="162" height="59" class="b"/><text x="2166" y="2972">Generate Digital</text><text x="2166" y="2989">Receipt</text></g>
<g id="sub-tx-details"><rect x="2295" y="2949" width="161" height="99" fill="#bbb"/><rect x="2292" y="2946" width="161" height="99" class="w"/><text x="2372" y="2966" class="s13">Transaction ID</text><text x="2372" y="2983" class="s13">Date and Time</text><text x="2372" y="3000" class="s13">Amount</text><text x="2372" y="3017" class="s13">Sender &amp; Recipient</text><text x="2372" y="3034" class="s13">Details</text></g>
<g id="sub-share"><polygon points="2499,2946 2647,2946 2627,3045 2479,3045" class="n"/><text x="2563" y="2992" class="s13">Share via</text><text x="2563" y="3009" class="s13">whatsapp or email</text></g>

<!-- Help -->
<g id="feedback"><rect x="2903" y="1846" width="147" height="61" rx="10" class="g"/><text x="2977" y="1881.5">Feedback</text></g>
<g id="fb-enter"><rect x="2917" y="1986" width="120" height="61" class="b"/><text x="2977" y="2021.5">Enter details</text></g>
<g id="fb-desc"><rect x="3082" y="1963" width="158" height="107" class="n"/><text x="3161" y="2003.5">Description,</text><text x="3161" y="2021.5">Email/phone number,</text><text x="3161" y="2039.5">Ratings(optional)</text></g>
<g id="fb-submit"><rect x="2917" y="2128" width="120" height="61" class="b"/><text x="2977" y="2163.5">Submit feedback</text></g>
<g id="get-help"><rect x="3299" y="1841" width="120" height="61" rx="10" class="g"/><text x="3359" y="1876.5">Get Help</text></g>
<g id="help-enter"><rect x="3299" y="1971" width="120" height="61" class="b"/><text x="3359" y="2006.5">Enter details</text></g>
<g id="help-issue"><rect x="3465" y="1949" width="177" height="106" class="n"/><text x="3553" y="1971">Select issue type,</text><text x="3553" y="1989">Description,</text><text x="3553" y="2007">Attachments,</text><text x="3553" y="2025">Priority level,</text><text x="3553" y="2043">Email/Phone number</text></g>
<g id="help-submit"><rect x="3299" y="2113" width="120" height="61" class="b"/><text x="3359" y="2140">Submit help</text><text x="3359" y="2157">request</text></g>

<!-- Contents -->
<g id="view-details"><rect x="3056" y="2502" width="119" height="60" rx="8" class="g"/><text x="3115" y="2537.5" class="s15">View details</text></g>
<g id="terms"><rect x="3033" y="2610" width="165" height="59" class="b"/><text x="3115" y="2645" class="s15">Terms and condition</text></g>
<g id="privacy"><rect x="3033" y="2720" width="165" height="59" class="b"/><text x="3115" y="2755" class="s15">Privacy Policy</text></g>
<g id="disclaimer"><rect x="3033" y="2850" width="165" height="59" class="b"/><text x="3115" y="2885" class="s15">Disclaimer</text></g>
<g id="app-version"><rect x="3033" y="2970" width="165" height="59" class="b"/><text x="3115" y="3005" class="s15">App Version</text></g>

<!-- Logout -->
<g id="logout"><rect x="1910" y="3250" width="120" height="60" class="g"/><text x="1970" y="3285" class="bd s15">LOGOUT</text></g>
<g id="stop"><circle cx="1970" cy="3420" r="40" fill="#ffe6cc" stroke="#d79b00" stroke-width="1.5"/><text x="1970" y="3425" class="bd">STOP</text></g>
</svg>
